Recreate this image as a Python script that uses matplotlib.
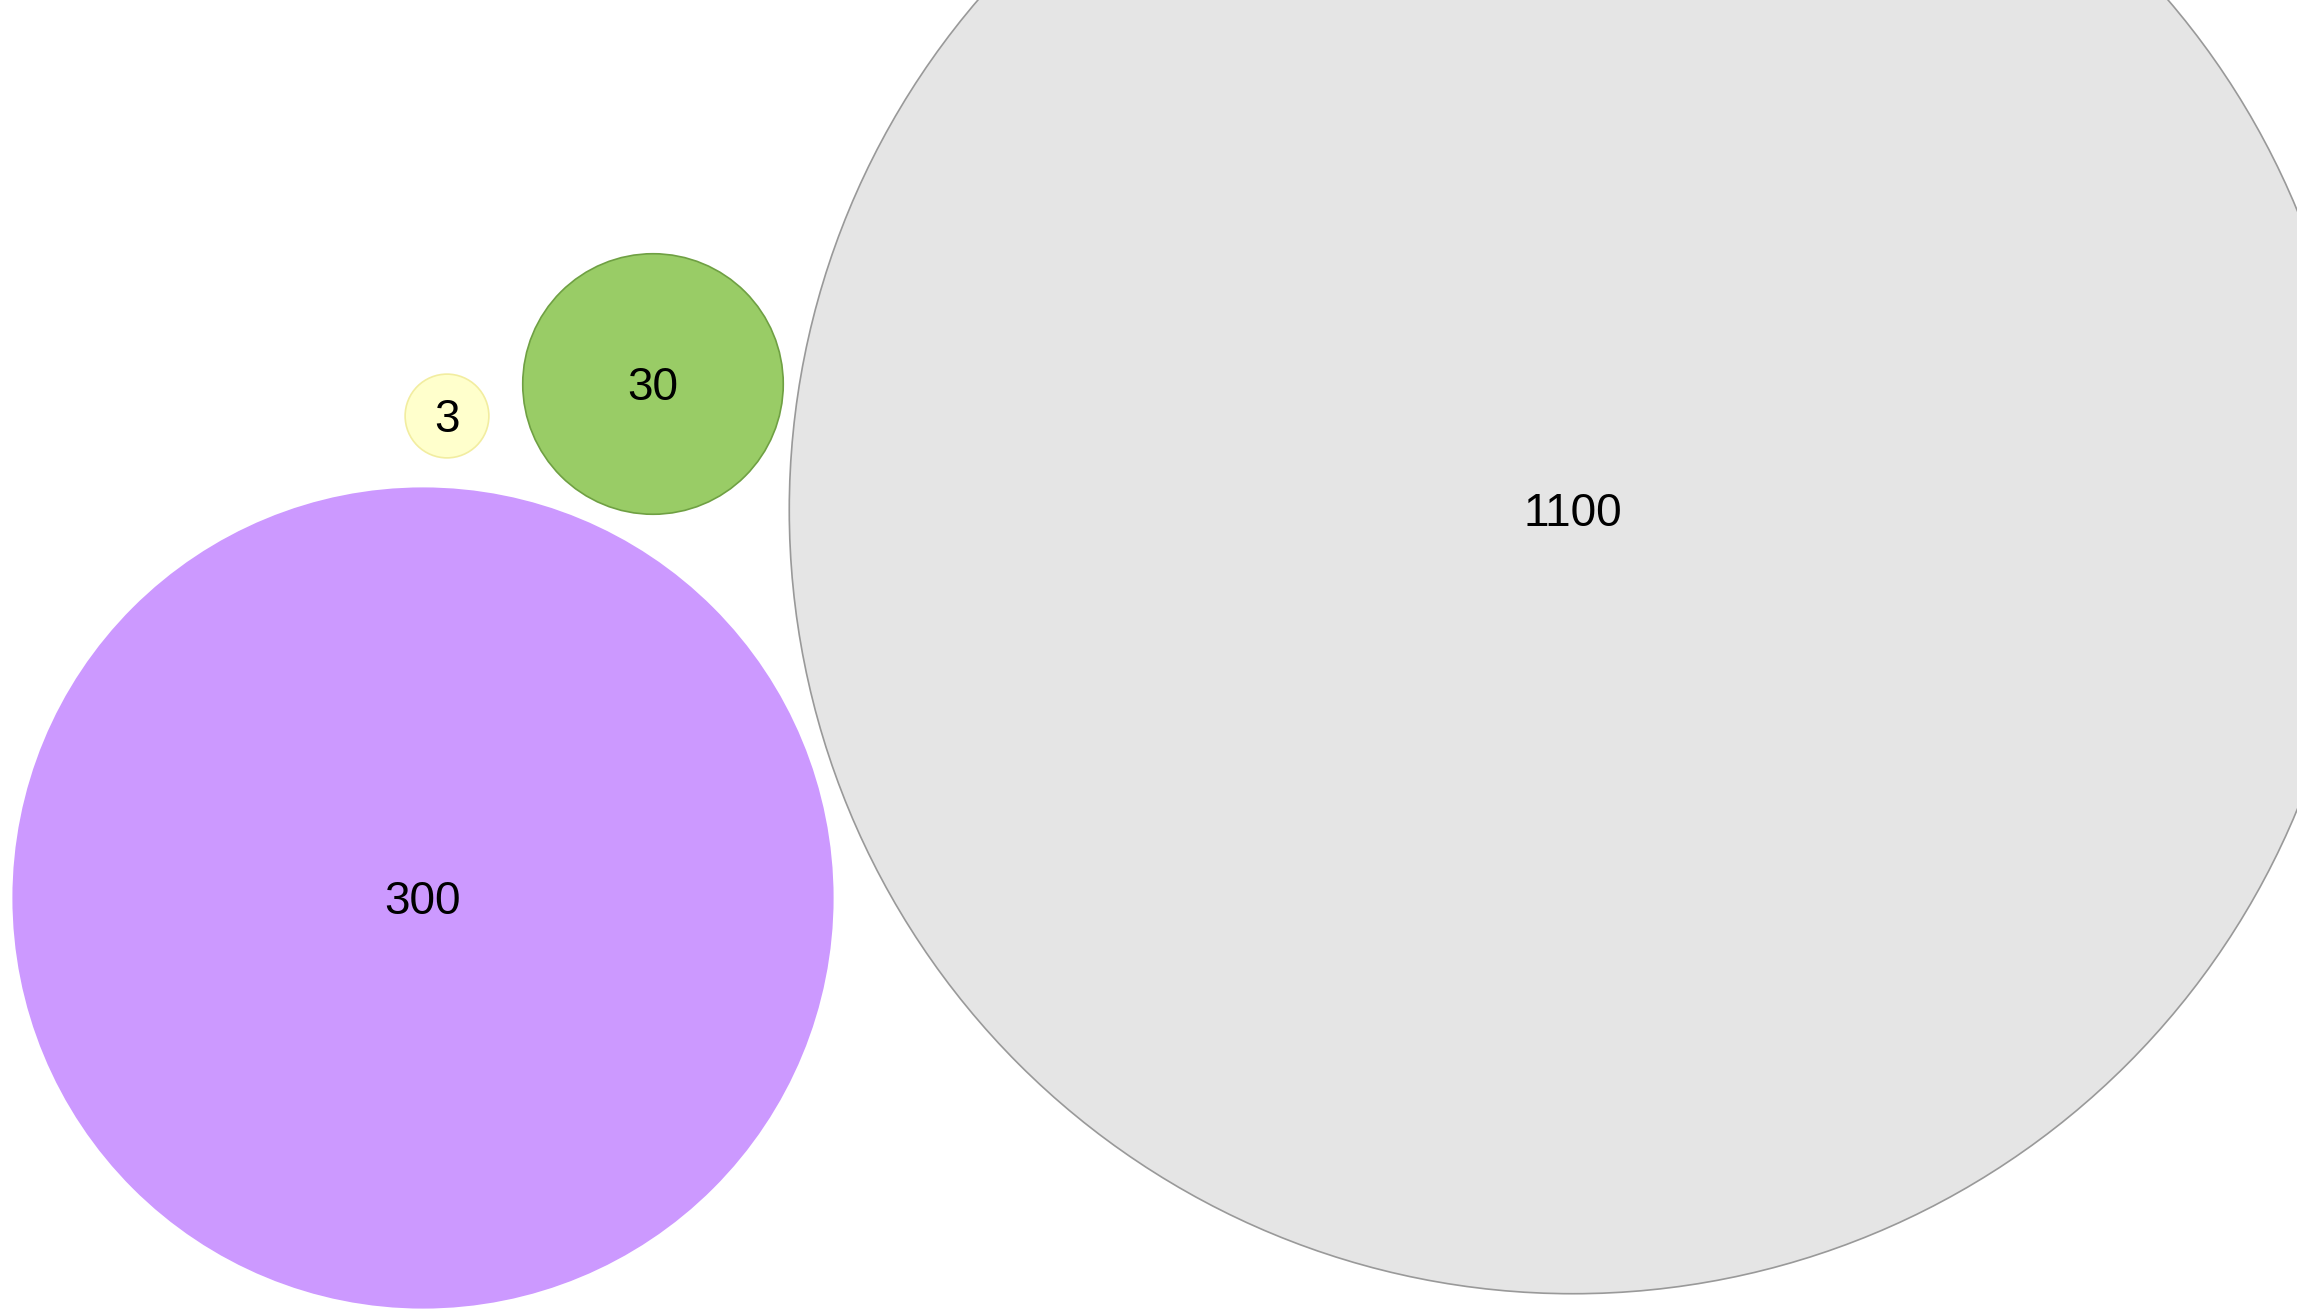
import numpy as np
import matplotlib
matplotlib.use("Agg")
import matplotlib.pyplot as plt
from matplotlib.patches import Circle

# Valores de las burbujas y su posición (en píxeles de la imagen)
values = [3, 30, 300, 1100]
labels = ["3", "30", "300", "1100"]
x_pos = [447, 653, 423, 1573]
y_pos = [416, 384, 898, 510]
fill_colors = ["#FFFFCC", "#99CC66", "#CC99FF", "#E5E5E5"]
edge_colors = ["#F2EDA0", "#6FA043", "#CC99FF", "#999999"]

W, H = 2297, 1313
scale = 23.6  # radio = scale * sqrt(valor) + 1
font_pt = 33
cap_px = 0.716 * font_pt * 100 / 72  # altura de las cifras en píxeles

fig = plt.figure(figsize=(W / 100, H / 100), dpi=100)
ax = fig.add_axes([0, 0, 1, 1])
ax.set_xlim(0, W)
ax.set_ylim(H, 0)
ax.set_aspect("equal")
ax.axis("off")

for v, lab, x, y, fc, ec in zip(values, labels, x_pos, y_pos, fill_colors, edge_colors):
    r = scale * np.sqrt(v) + 1
    ax.add_patch(Circle((x, y), r, facecolor=fc, edgecolor=ec, linewidth=1.2))
    # centrar las cifras verticalmente en el círculo
    ax.text(x, y + cap_px / 2, lab, ha="center", va="baseline", fontsize=font_pt,
            family=["Liberation Sans", "DejaVu Sans"], color="black")

fig.savefig("out.png", dpi=100)
